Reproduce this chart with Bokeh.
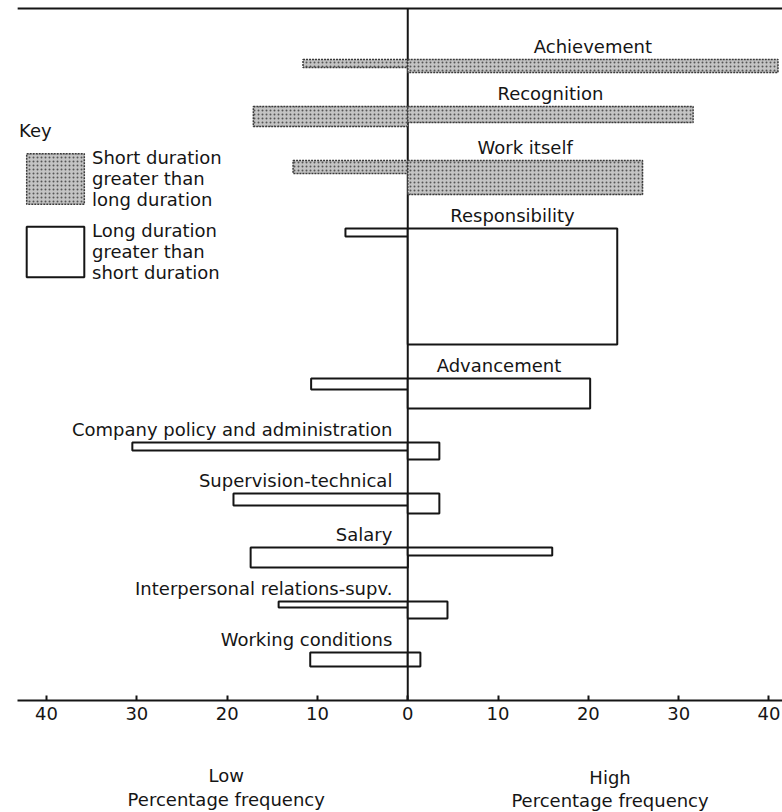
from bokeh.plotting import figure
from bokeh.layouts import column
from bokeh.models import Range1d, FixedTicker, Legend, LegendItem, ColumnDataSource
from bokeh.embed import file_html
from bokeh.resources import INLINE
from bokeh.core.properties import value

# ---- data ----
factors = ["Achievement", "Recognition", "Work itself", "Responsibility", "Advancement",
           "Company policy and administration", "Supervision-technical", "Salary",
           "Interpersonal relations-supv.", "Working conditions"]
low_pct = [11.6, 17.1, 12.7, 6.9, 10.7, 30.5, 19.3, 17.4, 14.3, 10.8]
high_pct = [41.0, 31.6, 26.0, 23.2, 20.2, 3.5, 3.5, 16.0, 4.4, 1.4]
low_duration = [8, 20, 13, 8, 11, 8, 12, 20, 6, 14]
high_duration = [13, 16, 34, 116, 30, 17, 20, 8, 17, 14]
short_greater = [True, True, True, False, False, False, False, False, False, False]
tick_values = [-40, -30, -20, -10, 0, 10, 20, 30, 40]
tick_labels = ["40", "30", "20", "10", "0", "10", "20", "30", "40"]
key_labels = ["Short duration\ngreater than\nlong duration",
              "Long duration\ngreater than\nshort duration"]
side_titles = ["Low", "High"]
side_subtitle = "Percentage frequency"

# ---- layout constants ----
FONT = "DejaVu Sans"
FIRST_LABEL_Y = 46
LABEL_TO_BAR = 13
ROW_GAP = 21
INK = "#151515"
X_RANGE = (-45.1, 41.5)

shaded = dict(left=[], right=[], top=[], bottom=[])
plain = dict(left=[], right=[], top=[], bottom=[])
lab = dict(x=[], y=[], text=[], align=[])

y = FIRST_LABEL_Y
for i, f in enumerate(factors):
    top = y + LABEL_TO_BAR
    tgt = shaded if short_greater[i] else plain
    tgt["left"].append(-low_pct[i]); tgt["right"].append(0)
    tgt["top"].append(top); tgt["bottom"].append(top + low_duration[i])
    tgt["left"].append(0); tgt["right"].append(high_pct[i])
    tgt["top"].append(top); tgt["bottom"].append(top + high_duration[i])
    if high_pct[i] >= low_pct[i]:
        lab["x"].append(high_pct[i] / 2); lab["align"].append("center")
    else:
        lab["x"].append(-1.7); lab["align"].append("right")
    lab["y"].append(y); lab["text"].append(f)
    y = top + max(low_duration[i], high_duration[i]) + ROW_GAP

xr = Range1d(*X_RANGE)
p = figure(width=782, height=732, x_range=xr, y_range=Range1d(700, 0),
           min_border_left=0, min_border_right=0, min_border_top=0, min_border_bottom=32,
           toolbar_location=None, output_backend="svg", y_axis_location=None,
           outline_line_color=None, background_fill_color="white", border_fill_color="white")
p.grid.visible = False

p.segment(x0=[-43.2], y0=[8], x1=[41.5], y1=[8], line_color=INK, line_width=2)
p.segment(x0=[0], y0=[8], x1=[0], y1=[700], line_color=INK, line_width=2)

r_shaded = p.quad(source=ColumnDataSource(shaded), left="left", right="right", top="top", bottom="bottom",
                  fill_color="#c4c4c4", hatch_pattern=".", hatch_color="#555555", hatch_scale=4,
                  hatch_weight=1, line_color="#3a3a3a", line_width=1.5, line_dash="2 1")
r_plain = p.quad(source=ColumnDataSource(plain), left="left", right="right", top="top", bottom="bottom",
                 fill_color="white", line_color=INK, line_width=2)

p.text(source=ColumnDataSource(lab), x="x", y="y", text="text", text_align="align",
       text_baseline="middle", text_font=value(FONT), text_font_size="18px", text_color=INK)

ax = p.xaxis[0]
ax.ticker = FixedTicker(ticks=tick_values)
ax.major_label_overrides = {t: s for t, s in zip(tick_values, tick_labels)}
ax.major_label_text_font = FONT
ax.major_label_text_font_size = "18px"
ax.major_label_text_color = INK
ax.major_label_standoff = 6
ax.axis_line_width = 2
ax.axis_line_color = INK
ax.major_tick_line_width = 2
ax.major_tick_line_color = INK
ax.major_tick_in = 5
ax.major_tick_out = 0
ax.minor_tick_line_color = None
ax.bounds = (-43.2, 41.5)

legend = Legend(items=[LegendItem(label=key_labels[0], renderers=[r_shaded]),
                       LegendItem(label=key_labels[1], renderers=[r_plain])],
                title="Key", location=(19, 417), orientation="vertical",
                glyph_width=72, glyph_height=63, label_standoff=1, spacing=10,
                padding=0, margin=0, border_line_color=None, background_fill_alpha=0,
                label_text_font=FONT, label_text_font_size="18px", label_text_color=INK,
                label_text_line_height=0.8,
                title_text_font=FONT, title_text_font_size="18px", title_text_font_style="normal",
                title_text_color=INK, title_standoff=6)
p.add_layout(legend)

# bottom captions share the same x scale
q = figure(width=782, height=80, x_range=xr, y_range=Range1d(812, 732),
           min_border_left=0, min_border_right=0, min_border_top=0, min_border_bottom=0,
           toolbar_location=None, output_backend="svg", x_axis_location=None, y_axis_location=None,
           outline_line_color=None, background_fill_color="white", border_fill_color="white")
q.grid.visible = False
cap = ColumnDataSource(dict(x=[-20.1, -20.1, 22.4, 22.4], y=[775, 799, 777, 800],
                            text=[side_titles[0], side_subtitle, side_titles[1], side_subtitle]))
q.text(source=cap, x="x", y="y", text="text", text_align="center", text_baseline="middle",
       text_font=value(FONT), text_font_size="18px", text_color=INK)

layout = column(p, q, spacing=0)
open("out.html", "w").write(file_html(layout, INLINE))
